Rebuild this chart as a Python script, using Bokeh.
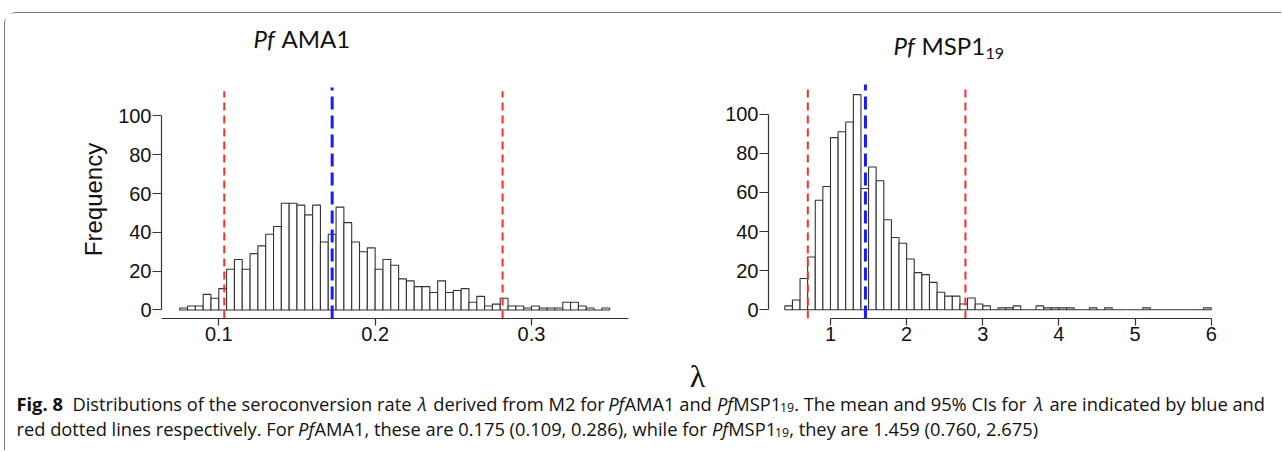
import numpy as np
from bokeh.plotting import figure
from bokeh.models import Range1d, FixedTicker, ColumnDataSource
from bokeh.layouts import row, column
from bokeh.core.properties import value
from bokeh.embed import file_html
from bokeh.resources import INLINE

# ---------------- data ----------------
ama1_bin_start = 0.075
ama1_bin_width = 0.005
ama1_counts = [1, 2, 2, 8, 6, 11, 21, 26, 21, 29, 33, 39, 43, 55, 55, 54, 49, 54, 35, 39,
               53, 45, 35, 30, 32, 21, 26, 23, 16, 15, 12, 12, 9, 15, 9, 10, 11, 4, 7, 2,
               3, 6, 2, 2, 1, 2, 1, 1, 1, 4, 4, 2, 1, 0, 1]
ama1_mean = [0.1725]
ama1_ci = [0.1035, 0.2815]
ama1_xticks = [0.1, 0.2, 0.3]

msp1_bin_start = 0.4
msp1_bin_width = 0.1
msp1_counts = [2, 5, 16, 27, 56, 63, 88, 91, 96, 110, 62, 73, 66, 46, 37, 34, 26, 19, 18, 14,
               9, 7, 7, 3, 6, 3, 2, 0, 1, 1, 2, 0, 0, 2, 1, 1, 1, 1, 0, 0,
               1, 0, 1, 0, 0, 0, 0, 1, 0, 0, 0, 0, 0, 0, 0, 1]
msp1_mean = [1.459]
msp1_ci = [0.702, 2.772]
msp1_xticks = [1, 2, 3, 4, 5, 6]

yticks = [0, 20, 40, 60, 80, 100]

AX = "#333333"
BAR_LINE = "#333333"
TXT = "#111111"


# page-pixel -> data helpers (layout only)
def lx(px): return 0.1 + (px - 218.3) / 1563.5
def ly(py): return (313.3 - py) / 1.973
def rx(px): return 1 + (px - 830.0) / 76.14
def ry(py): return (309.3 - py) / 1.956


def style_axes(p, xticks, xbounds):
    p.grid.visible = False
    p.outline_line_color = None
    p.background_fill_color = "white"
    p.border_fill_color = "white"
    for ax in (p.xaxis[0], p.yaxis[0]):
        ax.axis_line_color = AX
        ax.axis_line_width = 1.2
        ax.major_tick_line_color = AX
        ax.major_tick_line_width = 1.2
        ax.minor_tick_line_color = None
        ax.major_tick_in = 0
        ax.major_label_text_font = "Liberation Sans"
        ax.major_label_text_font_size = "20px"
        ax.major_label_text_color = TXT
    p.xaxis.ticker = FixedTicker(ticks=xticks)
    p.xaxis.major_tick_out = 7
    p.xaxis.major_label_standoff = 1
    p.xaxis.bounds = xbounds
    p.yaxis.ticker = FixedTicker(ticks=yticks)
    p.yaxis.major_tick_out = 9
    p.yaxis.major_label_standoff = 1
    p.yaxis.bounds = (0, 100)


def hist(p, start, width, counts):
    counts = np.array(counts, dtype=float)
    left = start + width * np.arange(len(counts))
    p.quad(left=left, right=left + width, bottom=0, top=counts,
           fill_color="white", line_color=BAR_LINE, line_width=1.1)


def vlines(p, xs, y0, y1, color, dash, lw):
    p.segment(x0=xs, x1=xs, y0=[y0] * len(xs), y1=[y1] * len(xs),
              line_color=color, line_dash=dash, line_width=lw)


def blank(p):
    p.axis.visible = False
    p.grid.visible = False
    p.outline_line_color = None
    p.background_fill_color = "white"
    p.border_fill_color = "white"


def runs_text(p, runs, font):
    src = ColumnDataSource(dict(x=[r[0] for r in runs], y=[r[1] for r in runs],
                                text=[r[2] for r in runs], style=[r[3] for r in runs],
                                size=[r[4] for r in runs]))
    p.text(x="x", y="y", text="text", source=src, text_font=value(font),
           text_font_style="style", text_font_size="size", text_align="left",
           text_baseline="alphabetic", text_color=TXT)


def flow(x0, y, pieces, size):
    """pieces: (text, style, approx width at 18px, gap after, is_sub)"""
    out = []
    k = size / 18.0
    x = x0
    for text, style, w, gap, sub in pieces:
        if sub:
            out.append((x, y + 4, text, style, "%.1fpx" % (size * 0.67)))
        else:
            out.append((x, y, text, style, "%.1fpx" % size))
        x += (w + gap) * k
    return out


# ---------------- title strip ----------------
fT = figure(width=1276, height=62, output_backend="svg", toolbar_location=None,
            x_range=Range1d(5, 1281), y_range=Range1d(75, 13),
            min_border=0, min_border_left=0, min_border_right=0,
            min_border_top=0, min_border_bottom=0)
blank(fT)
title_runs = [
    (253, 38, "Pf", "italic", "24px"),
    (281, 38, "AMA1", "normal", "24px"),
    (893, 45, "Pf", "italic", "24px"),
    (921, 45, "MSP1", "normal", "24px"),
    (985, 53, "19", "normal", "16px"),
]
runs_text(fT, title_runs, "Lato")

# ---------------- left panel: Pf AMA1 ----------------
fL = figure(width=655, height=280, output_backend="svg", toolbar_location=None,
            x_range=Range1d(lx(161), lx(628)), y_range=Range1d(ly(322), ly(80)),
            min_border_left=156, min_border_right=32, min_border_top=5, min_border_bottom=33)
style_axes(fL, ama1_xticks, "auto")
fL.yaxis.axis_label = "Frequency"
fL.yaxis.axis_label_text_font = "Liberation Sans"
fL.yaxis.axis_label_text_font_size = "24px"
fL.yaxis.axis_label_text_font_style = "normal"
fL.yaxis.axis_label_text_color = TXT
fL.yaxis.axis_label_standoff = 8
hist(fL, ama1_bin_start, ama1_bin_width, ama1_counts)
vlines(fL, ama1_ci, ly(322), ly(91), "#ff2a2a", "8 5", 2)
vlines(fL, ama1_mean, ly(322), ly(87), "#1a1aff", "13 6", 3)

# ---------------- right panel: Pf MSP1_19 ----------------
fR = figure(width=621, height=280, output_backend="svg", toolbar_location=None,
            x_range=Range1d(rx(768), rx(1220)), y_range=Range1d(ry(318), ry(80)),
            min_border_left=108, min_border_right=61, min_border_top=5, min_border_bottom=37)
style_axes(fR, msp1_xticks, (1, 6))
hist(fR, msp1_bin_start, msp1_bin_width, msp1_counts)
vlines(fR, msp1_ci, ry(318), ry(89), "#ff2a2a", "8 5", 2)
vlines(fR, msp1_mean, ry(318), ry(84), "#1a1aff", "13 6", 3)

# ---------------- caption panel ----------------
fC = figure(width=1276, height=95, output_backend="svg", toolbar_location=None,
            x_range=Range1d(5, 1281), y_range=Range1d(450, 355),
            min_border=0, min_border_left=0, min_border_right=0,
            min_border_top=0, min_border_bottom=0)
blank(fC)
fC.text(x=[697], y=[375], text=["λ"], text_font=value("Liberation Serif"),
        text_font_size="32px", text_align="center", text_baseline="alphabetic",
        text_color=TXT)

CAP = 18.3
line1 = [
    ("Fig. 8", "bold", 45, 10, False),
    ("Distributions of the seroconversion rate", "normal", 335, 5, False),
    ("λ", "italic", 10, 5, False),
    ("derived from M2 for", "normal", 167, 5, False),
    ("Pf", "italic", 15, 1, False),
    ("AMA1 and", "normal", 86, 5, False),
    ("Pf", "italic", 15, 1, False),
    ("MSP1", "normal", 45, 1, False),
    ("19", "normal", 14, 0, True),
    (". The mean and 95% CIs for", "normal", 231, 5, False),
    ("λ", "italic", 10, 5, False),
    ("are indicated by blue and", "normal", 210, 0, False),
]
line2 = [
    ("red dotted lines respectively. For", "normal", 272, 5, False),
    ("Pf", "italic", 15, 1, False),
    ("AMA1, these are 0.175 (0.109, 0.286), while for", "normal", 386, 5, False),
    ("Pf", "italic", 15, 1, False),
    ("MSP1", "normal", 45, 1, False),
    ("19", "normal", 14, 0, True),
    (", they are 1.459 (0.760, 2.675)", "normal", 247, 0, False),
]
caption_runs = flow(16, 403, line1, CAP) + flow(16, 428, line2, CAP)
runs_text(fC, caption_runs, "Open Sans")

layout = column(fT, row(fL, fR, spacing=0), fC, spacing=0, margin=(12, 0, 0, 4),
                styles={"border-top": "1px solid #777777", "border-left": "1px solid #777777",
                        "border-top-left-radius": "12px"})

open("out.html", "w").write(file_html(layout, INLINE))
